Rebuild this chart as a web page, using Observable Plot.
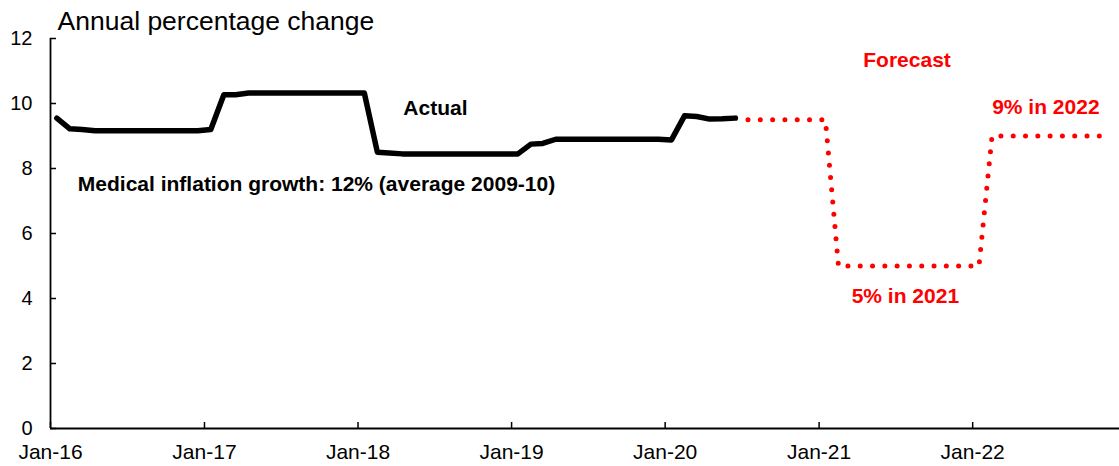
<!DOCTYPE html>
<html><head><meta charset="utf-8">
<script src="https://cdn.jsdelivr.net/npm/d3@7"></script>
<script src="https://cdn.jsdelivr.net/npm/@observablehq/plot@0.6"></script>
<style>body{margin:0;background:#fff} #chart{width:1119px;height:466px}</style>
</head><body><div id="chart"></div>
<script>
// Monthly actual series, Jan-2016 .. Jun-2020 (annual % change)
const actualStart = "2016-01";
const actualValues = [
  9.55, 9.22, 9.2, 9.16, 9.16, 9.16, 9.16, 9.16, 9.16, 9.16, 9.16, 9.16,
  9.2, 10.27, 10.27, 10.32, 10.32, 10.32, 10.32, 10.32, 10.32, 10.32, 10.32, 10.32,
  10.32, 8.5, 8.48, 8.45, 8.45, 8.45, 8.45, 8.45, 8.45, 8.45, 8.45, 8.45,
  8.45, 8.75, 8.77, 8.9, 8.9, 8.9, 8.9, 8.9, 8.9, 8.9, 8.9, 8.9,
  8.88, 9.62, 9.6, 9.52, 9.53, 9.55
];
// Monthly forecast series, Jul-2020 .. Nov-2022
const forecastStart = "2020-07";
const forecastValues = [
  9.5, 9.5, 9.5, 9.5, 9.5, 9.5, 9.5,
  5, 5, 5, 5, 5, 5, 5, 5, 5, 5, 5, 5,
  9, 9, 9, 9, 9, 9, 9, 9, 9, 9
];
const yTicks = [0, 2, 4, 6, 8, 10, 12];
const xTickLabels = ["2016-01-01", "2017-01-01", "2018-01-01", "2019-01-01", "2020-01-01", "2021-01-01", "2022-01-01"];
const xDomain = ["2016-01-01", "2022-12-16"];
const yAxisTitle = "Annual percentage change";
const blackNotes = [
  {text: "Actual", date: "2018-07-04", value: 9.84},
];
const blackNoteLeft = [
  {text: "Medical inflation growth: 12% (average 2009-10)", date: "2016-03-06", value: 7.53}
];
const redNotes = [
  {text: "Forecast", date: "2021-07-29", value: 11.34},
  {text: "9% in 2022", date: "2022-06-24", value: 9.87},
  {text: "5% in 2021", date: "2021-07-25", value: 4.08}
];

function monthly(start, values) {
  const [y, m] = start.split("-").map(Number);
  return values.map((v, i) => ({date: new Date(Date.UTC(y, m - 1 + i, 16)), value: v}));
}
const actual = monthly(actualStart, actualValues);
const forecast = monthly(forecastStart, forecastValues);
const toDate = d => new Date(d);
const notes = arr => arr.map(d => ({...d, date: toDate(d.date)}));
const xTicks = xTickLabels.map(toDate);

const plot = Plot.plot({
  width: 1119, height: 466,
  marginLeft: 50, marginRight: 0, marginTop: 38, marginBottom: 38,
  style: {fontFamily: "Arial, 'Liberation Sans', sans-serif", background: "#fff", color: "#000", overflow: "visible"},
  x: {type: "utc", domain: xDomain.map(toDate), label: null},
  y: {domain: [0, 12], label: null},
  marks: [
    Plot.ruleX([toDate(xDomain[0])], {stroke: "#000", strokeWidth: 1.8}),
    Plot.ruleY([0], {stroke: "#000", strokeWidth: 2}),
    Plot.axisY({ticks: yTicks, tickSize: 6, dx: 6, text: null, label: null, strokeWidth: 1.5}),
    Plot.axisY({ticks: yTicks, tickSize: 0, tickPadding: 18, fontSize: 20, label: null}),
    Plot.axisX({ticks: xTicks, tickSize: 6, dy: -6, text: null, label: null, strokeWidth: 1.5}),
    Plot.axisX({ticks: xTicks, tickSize: 0, tickPadding: 16, fontSize: 21, tickFormat: d3.utcFormat("%b-%y"), label: null}),
    Plot.line(actual, {x: "date", y: "value", stroke: "#000", strokeWidth: 5.5}),
    Plot.line(forecast, {x: "date", y: "value", stroke: "#ff0000", strokeWidth: 5, strokeDasharray: "0 12.3", strokeLinecap: "round"}),
    Plot.text([yAxisTitle], {frameAnchor: "top-left", textAnchor: "start", lineAnchor: "bottom", dx: 7, dy: -9, fontSize: 26.5}),
    Plot.text(notes(blackNotes), {x: "date", y: "value", text: "text", fill: "#000", fontWeight: "bold", fontSize: 21}),
    Plot.text(notes(blackNoteLeft), {x: "date", y: "value", text: "text", fill: "#000", fontWeight: "bold", fontSize: 21, textAnchor: "start"}),
    Plot.text(notes(redNotes), {x: "date", y: "value", text: "text", fill: "#ff0000", fontWeight: "bold", fontSize: 21})
  ]
});
document.getElementById("chart").appendChild(plot);
</script>
</body></html>
